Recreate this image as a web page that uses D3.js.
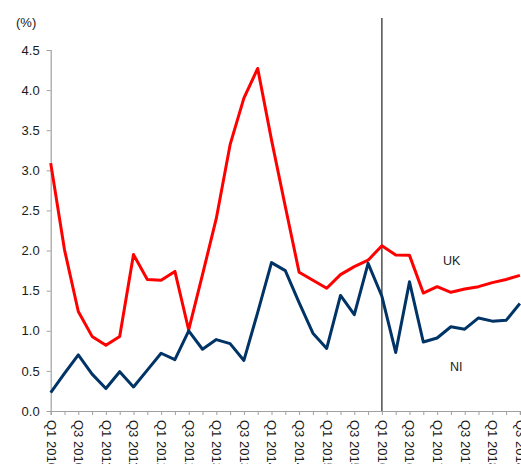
<!DOCTYPE html>
<html>
<head>
<meta charset="utf-8">
<script src="https://cdn.jsdelivr.net/npm/d3@7"></script>
<style>
  html, body { margin: 0; padding: 0; background: #fff; overflow: hidden; }
  svg { display: block; font-family: "Liberation Sans", Arial, sans-serif; }
</style>
</head>
<body>
<svg id="chart" width="521" height="464"></svg>
<script>
// ---- data ----
const years = [2010, 2011, 2012, 2013, 2014, 2015, 2016, 2017, 2018];
const quarters = [];
years.forEach(y => ["Q1", "Q2", "Q3", "Q4"].forEach(q => quarters.push(q + " " + y)));
const categories = quarters.slice(0, 35); // Q1 2010 .. Q3 2018

const ukValues = [3.09, 2.01, 1.24, 0.93, 0.82, 0.93, 1.95, 1.64, 1.63, 1.74,
                  1.01, 1.70, 2.40, 3.32, 3.90, 4.27, 3.38, 2.55, 1.73, 1.63,
                  1.53, 1.70, 1.80, 1.88, 2.06, 1.945, 1.94, 1.47, 1.55, 1.48,
                  1.52, 1.55, 1.60, 1.64, 1.69];
const niValues = [0.23, 0.47, 0.70, 0.46, 0.28, 0.49, 0.30, 0.51, 0.72, 0.64,
                  1.00, 0.77, 0.89, 0.84, 0.63, 1.23, 1.85, 1.75, 1.35, 0.97,
                  0.78, 1.44, 1.20, 1.84, 1.43, 0.73, 1.61, 0.86, 0.91, 1.05,
                  1.02, 1.16, 1.12, 1.13, 1.34];
const yTicks = [0, 0.5, 1.0, 1.5, 2.0, 2.5, 3.0, 3.5, 4.0, 4.5];
const markerCategory = "Q1 2016";
const seriesLabels = [
  { name: "UK", at: "Q1 2017", value: 1.82, dx: 6 },
  { name: "NI", at: "Q1 2017", value: 0.50, dx: 13 }
];

// ---- chart ----
const svg = d3.select("#chart");
const x = d3.scalePoint().domain(categories).range([50.7, 519.9]);
const y = d3.scaleLinear().domain([0, 4.5]).range([411, 50]);

// y axis
const yAxis = svg.append("g")
  .attr("transform", "translate(50.7,0)")
  .call(d3.axisLeft(y).tickValues(yTicks).tickFormat(d3.format(".1f")).tickSizeOuter(0).tickSize(4).tickPadding(7));
yAxis.select(".domain").attr("stroke", "#a0a0a0").attr("stroke-width", 1.2);
yAxis.selectAll(".tick line").attr("stroke", "#a0a0a0");
yAxis.selectAll(".tick text").attr("fill", "#1a1a1a").attr("font-size", 13);

// x axis
const xAxis = svg.append("g")
  .attr("transform", "translate(0,411)")
  .call(d3.axisBottom(x)
    .tickFormat((d, i) => (i % 2 === 0 ? d : ""))
    .tickSizeOuter(0).tickSize(4));
xAxis.select(".domain").attr("stroke", "#a0a0a0").attr("stroke-width", 1.2);
xAxis.selectAll(".tick line").attr("stroke", "#a0a0a0");
xAxis.selectAll(".tick text")
  .attr("fill", "#1a1a1a")
  .attr("font-size", 13)
  .attr("text-anchor", "start")
  .attr("transform", "rotate(90)")
  .attr("x", 9)
  .attr("y", 0)
  .attr("dy", "0.35em");

// (%) unit label
svg.append("text").attr("x", 16).attr("y", 27).attr("font-size", 13).attr("fill", "#1a1a1a").text("(%)");

// vertical marker line
svg.append("line")
  .attr("x1", x(markerCategory)).attr("x2", x(markerCategory))
  .attr("y1", 18).attr("y2", 411)
  .attr("stroke", "#222").attr("stroke-width", 1.2);

// lines
const line = d3.line().x((d, i) => x(categories[i])).y(d => y(d));
svg.append("path").datum(ukValues)
  .attr("d", line).attr("fill", "none").attr("stroke", "#ff0000").attr("stroke-width", 3).attr("stroke-linejoin", "round");
svg.append("path").datum(niValues)
  .attr("d", line).attr("fill", "none").attr("stroke", "#003366").attr("stroke-width", 3).attr("stroke-linejoin", "round");

// series labels
svg.selectAll(".slabel").data(seriesLabels).enter().append("text")
  .attr("x", d => x(d.at) + d.dx)
  .attr("y", d => y(d.value))
  .attr("font-size", 12.5)
  .attr("fill", "#1a1a1a")
  .text(d => d.name);
</script>
</body>
</html>
